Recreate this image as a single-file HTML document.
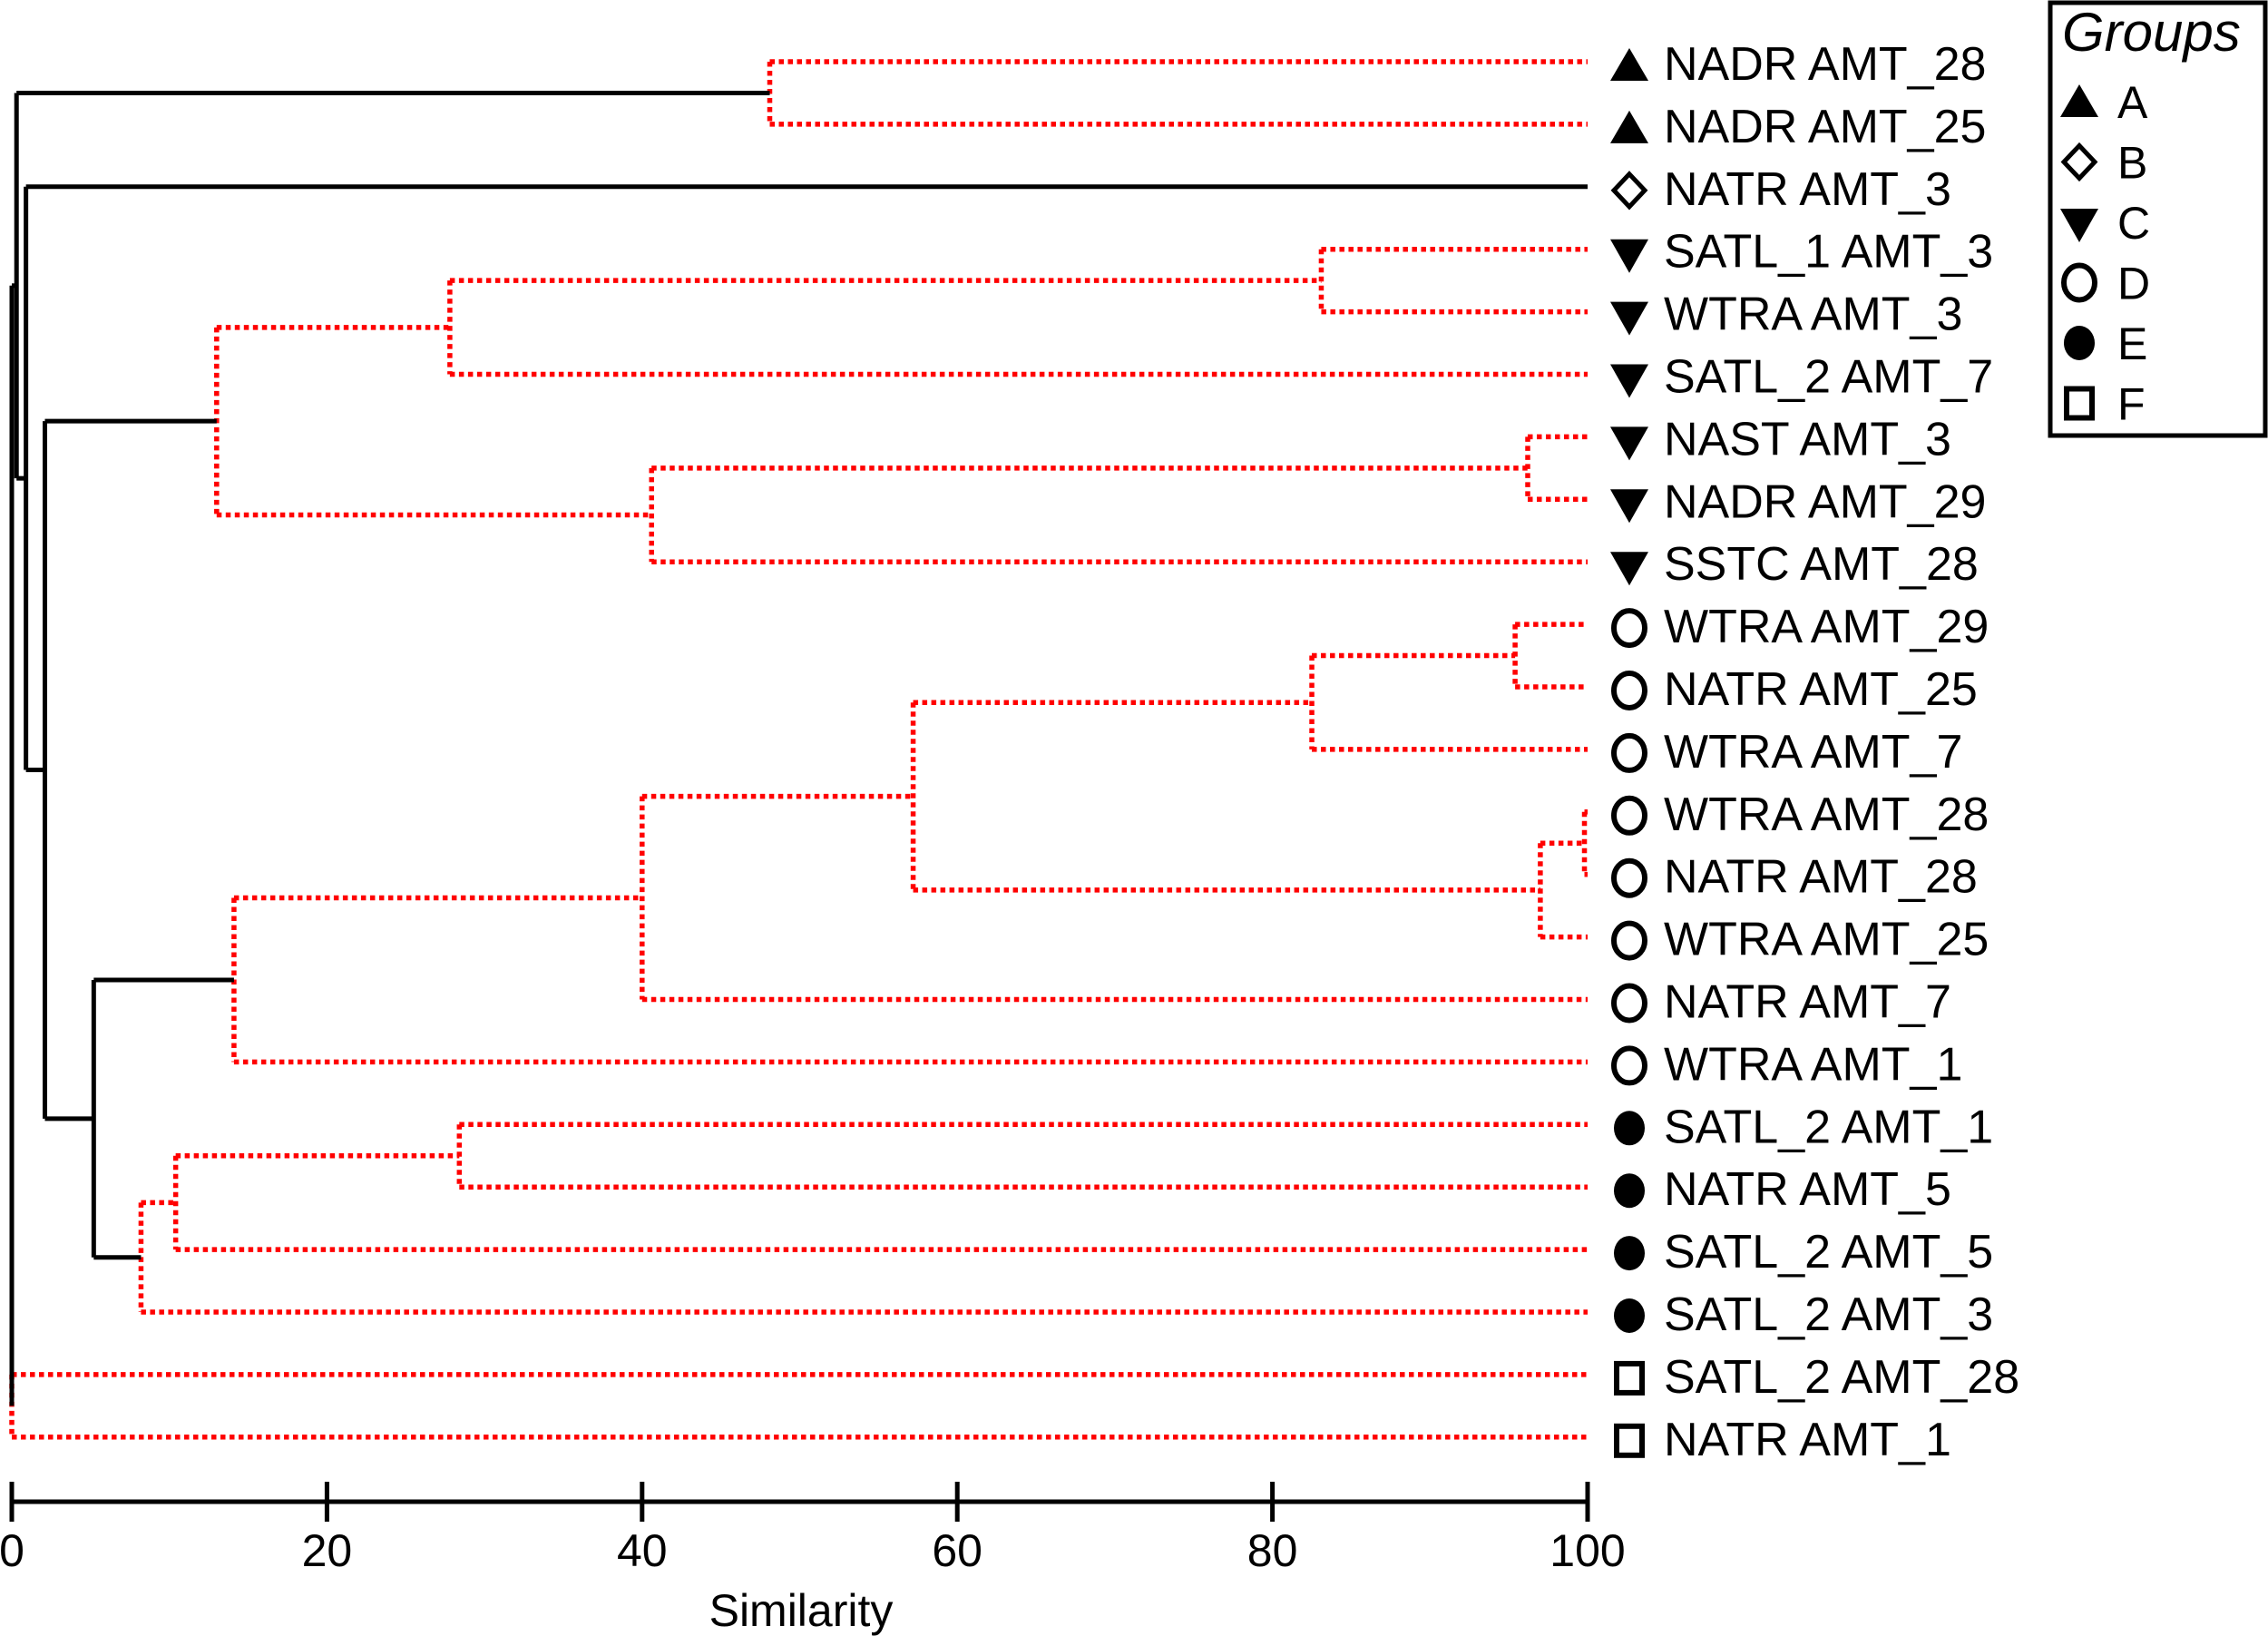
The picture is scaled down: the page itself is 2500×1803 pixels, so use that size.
<!DOCTYPE html>
<html><head><meta charset="utf-8"><style>
html,body{margin:0;padding:0;background:#fff;}
svg{display:block;font-family:"Liberation Sans",Arial,sans-serif;}
</style></head><body>
<svg id="chart" width="2500" height="1803" viewBox="0 0 2500 1803" xmlns="http://www.w3.org/2000/svg">
<g id="tree"></g>
<g id="labels"></g>
<g id="axis"></g>
<g id="legend">
  <rect x="2260" y="3" width="237" height="477" fill="#fff" stroke="#000" stroke-width="5"/>
  <text x="2273" y="56" font-size="60" font-style="italic">Groups</text>
</g>
</svg>
<script>
const leafLabels = ["NADR AMT_28","NADR AMT_25","NATR AMT_3","SATL_1 AMT_3","WTRA AMT_3","SATL_2 AMT_7","NAST AMT_3","NADR AMT_29","SSTC AMT_28","WTRA AMT_29","NATR AMT_25","WTRA AMT_7","WTRA AMT_28","NATR AMT_28","WTRA AMT_25","NATR AMT_7","WTRA AMT_1","SATL_2 AMT_1","NATR AMT_5","SATL_2 AMT_5","SATL_2 AMT_3","SATL_2 AMT_28","NATR AMT_1"];
const leafGroups = ["A","A","B","C","C","C","C","C","C","D","D","D","D","D","D","D","D","E","E","E","E","F","F"];
const mergeLeft  = [0,3,24,6,26,25,9,29,12,31,30,33,34,17,36,37,35,28,2,23,21,42];
const mergeRight = [1,4,5,7,8,27,10,11,13,14,32,15,16,18,19,20,38,39,40,41,22,43];
const mergeSim   = [48.1,83.1,27.8,96.2,40.6,13.0,95.4,82.5,99.8,97.0,57.2,40.0,14.1,28.4,10.4,8.2,5.2,2.1,0.9,0.3,0.0,0.0];
const mergeRed   = [1,1,1,1,1,1,1,1,1,1,1,1,1,1,1,1,0,0,0,0,1,0];
const tickValues = [0,20,40,60,80,100];
const groupNames = ["A","B","C","D","E","F"];

const NS="http://www.w3.org/2000/svg";
const X0=13, X1=1750, Y0=68, DY=68.9;
const xs = v => X0 + (X1-X0)*v/100;
const ys = i => Y0 + DY*i;
function mk(tag, attrs, parent){const e=document.createElementNS(NS,tag);for(const k in attrs)e.setAttribute(k,attrs[k]);parent.appendChild(e);return e;}

const tree=document.getElementById('tree');
const n=leafLabels.length;
const nodeY=[], nodeS=[];
for(let i=0;i<n;i++){nodeY[i]=ys(i);nodeS[i]=100;}
function line(x1,y1,x2,y2,red){
  const st = red ? {stroke:"#ff0000","stroke-width":5.5,"stroke-dasharray":"5.5 4.5",fill:"none"} : {stroke:"#000","stroke-width":5,fill:"none"};
  return mk('path',Object.assign({d:`M${x1},${y1}L${x2},${y2}`},st),tree);
}
for(let m=0;m<mergeSim.length;m++){
  const a=mergeLeft[m], b=mergeRight[m], s=mergeSim[m], red=mergeRed[m];
  const id=n+m;
  nodeY[id]=(nodeY[a]+nodeY[b])/2; nodeS[id]=s;
  const x=xs(s);
  const v=line(x,nodeY[a],x,nodeY[b],red);
  
  
  for(const c of [a,b]){
    if(Math.abs(xs(nodeS[c])-x)<0.5) continue;
    const h=line(x,nodeY[c],xs(nodeS[c]),nodeY[c],red);
    
    
  }
}

function marker(g,cx,cy,parent){
  let e;
  if(g==="A") e=mk('path',{d:`M${cx-21},${cy+17}L${cx+21},${cy+17}L${cx},${cy-19}Z`,fill:"#000"},parent);
  else if(g==="B") e=mk('path',{d:`M${cx},${cy-18}L${cx+17},${cy}L${cx},${cy+18}L${cx-17},${cy}Z`,fill:"#fff",stroke:"#000","stroke-width":5},parent);
  else if(g==="C") e=mk('path',{d:`M${cx-21},${cy-15}L${cx+21},${cy-15}L${cx},${cy+22}Z`,fill:"#000"},parent);
  else if(g==="D") e=mk('ellipse',{cx:cx,cy:cy,rx:17,ry:19,fill:"none",stroke:"#000","stroke-width":6},parent);
  else if(g==="E") e=mk('ellipse',{cx:cx,cy:cy,rx:17,ry:19,fill:"#000"},parent);
  else e=mk('rect',{x:cx-14,y:cy-16,width:28,height:32,fill:"none",stroke:"#000","stroke-width":6},parent);
  return e;
}

const labels=document.getElementById('labels');
for(let i=0;i<n;i++){
  const y=ys(i);
  const mkr=marker(leafGroups[i],1796,y+4,labels);
  
  
  const t=mk('text',{x:1834,y:y+20,"font-size":52},labels);
  t.textContent=leafLabels[i];
  
  
}

const axis=document.getElementById('axis');
const al=mk('path',{d:`M${X0},1655L${X1},1655`,stroke:"#000","stroke-width":5},axis);


tickValues.forEach((v,i)=>{
  const x=xs(v);
  const tk=mk('path',{d:`M${x},1633L${x},1677`,stroke:"#000","stroke-width":5},axis);
  
  
  const tl=mk('text',{x:x,y:1726,"font-size":50,"text-anchor":"middle"},axis);
  tl.textContent=String(v);
  
  
});
const at=mk('text',{x:883,y:1792,"font-size":50,"text-anchor":"middle"},axis);
at.textContent="Similarity";



const legend=document.getElementById('legend');
groupNames.forEach((g,i)=>{
  const y=112+i*66.5;
  const m=marker(g,2292,y,legend);
  
  
  const t=mk('text',{x:2334,y:y+18,"font-size":50},legend);
  t.textContent=g;
  
  
});
</script>
</body></html>
